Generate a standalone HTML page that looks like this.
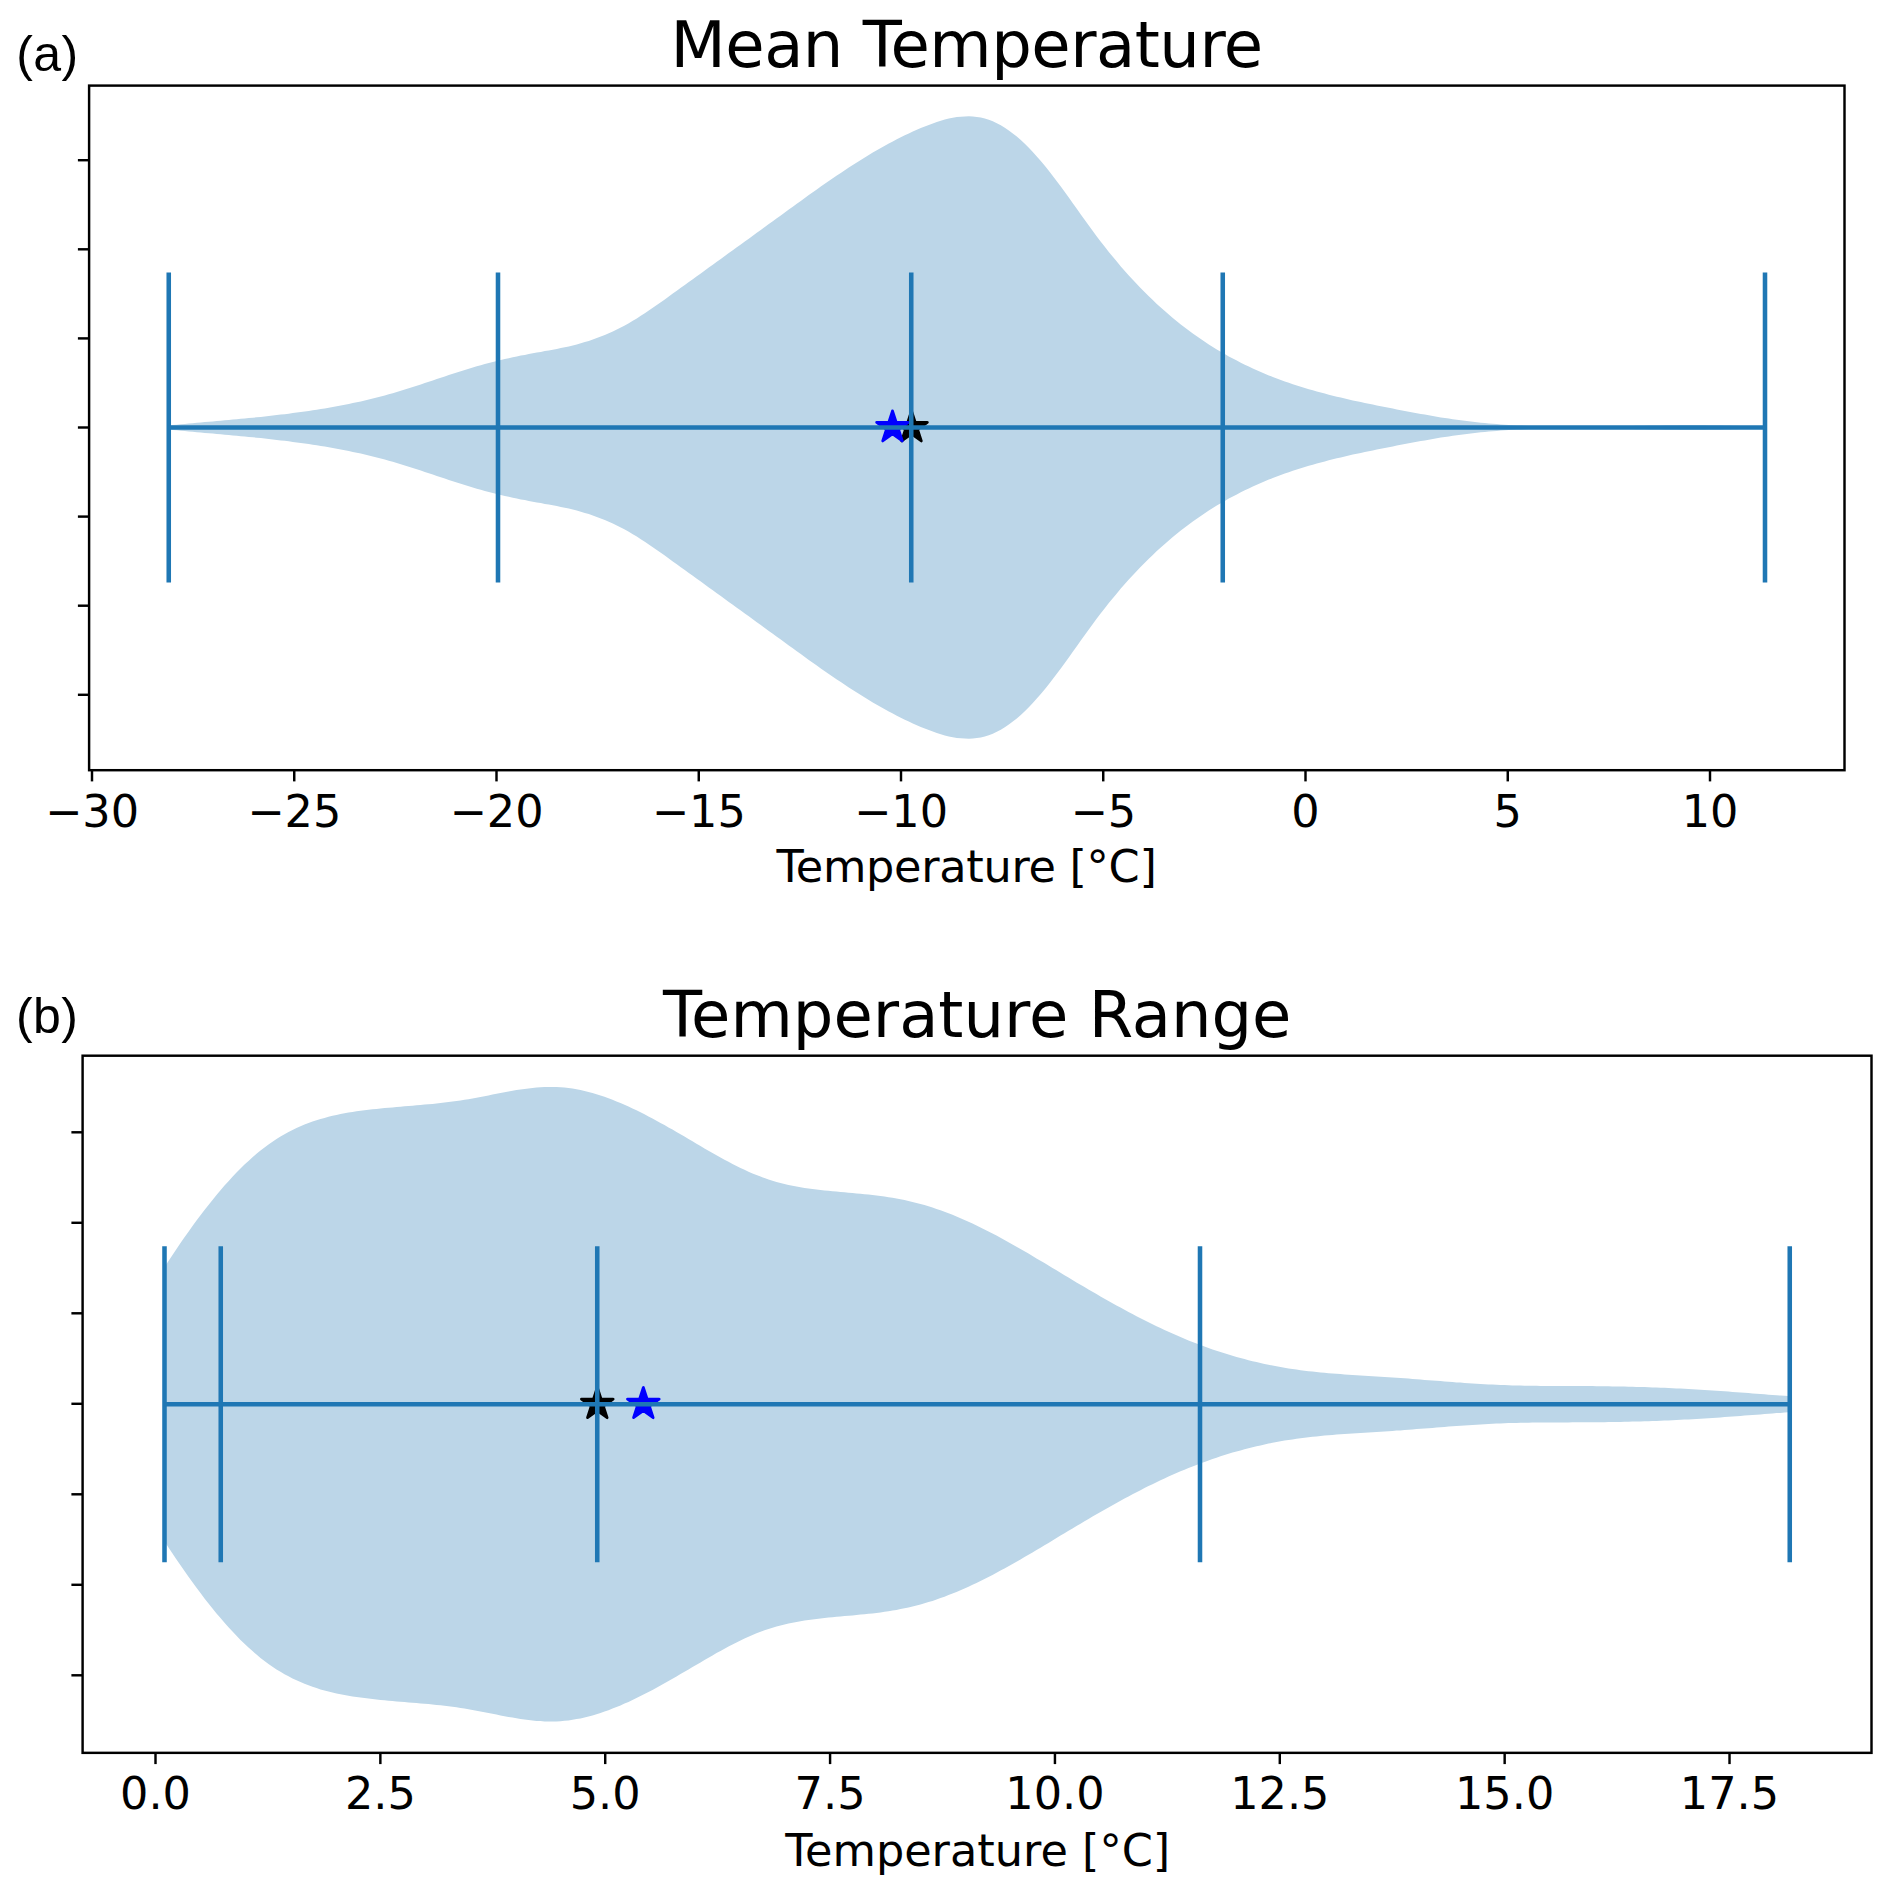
<!DOCTYPE html>
<html><head><meta charset="utf-8"><title>Violin plots</title>
<style>html,body{margin:0;padding:0;background:#fff}svg{display:block}text{fill:#000}.dj{font-family:"DejaVu Sans","Liberation Sans",sans-serif}.lb{font-family:"Liberation Sans","DejaVu Sans",sans-serif}</style></head><body>
<svg width="1892" height="1895" viewBox="0 0 1892 1895">
<rect width="1892" height="1895" fill="#fff"/>
<path d="M168.8,425.5 L172.8,425.1 L176.8,424.7 L180.8,424.3 L184.8,424.0 L188.8,423.6 L192.8,423.2 L196.8,422.8 L200.8,422.5 L204.8,422.1 L208.8,421.8 L212.8,421.4 L216.8,421.0 L220.8,420.7 L224.8,420.3 L228.8,420.0 L232.8,419.6 L236.8,419.2 L240.8,418.8 L244.8,418.5 L248.8,418.1 L252.8,417.7 L256.8,417.3 L260.8,416.9 L264.8,416.4 L268.8,416.0 L272.8,415.6 L276.8,415.1 L280.8,414.6 L284.8,414.2 L288.8,413.7 L292.8,413.1 L296.8,412.6 L300.8,412.1 L304.8,411.5 L308.8,410.9 L312.8,410.3 L316.8,409.7 L320.8,409.1 L324.8,408.4 L328.8,407.7 L332.8,407.0 L336.8,406.3 L340.8,405.5 L344.8,404.8 L348.8,404.0 L352.8,403.1 L356.8,402.3 L360.8,401.4 L364.8,400.5 L368.8,399.5 L372.8,398.5 L376.8,397.5 L380.8,396.5 L384.8,395.4 L388.8,394.3 L392.8,393.2 L396.8,392.0 L400.8,390.8 L404.8,389.5 L408.8,388.3 L412.8,387.0 L416.8,385.7 L420.8,384.4 L424.8,383.1 L428.8,381.8 L432.8,380.4 L436.8,379.1 L440.8,377.8 L444.8,376.4 L448.8,375.1 L452.8,373.8 L456.8,372.5 L460.8,371.2 L464.8,370.0 L468.8,368.7 L472.8,367.5 L476.8,366.3 L480.8,365.2 L484.8,364.1 L488.8,363.0 L492.8,361.9 L496.8,360.9 L500.8,360.0 L504.8,359.1 L508.8,358.2 L512.8,357.3 L516.8,356.5 L520.8,355.6 L524.8,354.9 L528.8,354.1 L532.8,353.3 L536.8,352.6 L540.8,351.9 L544.8,351.1 L548.8,350.4 L552.8,349.7 L556.8,348.9 L560.8,348.1 L564.8,347.3 L568.8,346.4 L572.8,345.4 L576.8,344.4 L580.8,343.3 L584.8,342.1 L588.8,340.9 L592.8,339.5 L596.8,338.1 L600.8,336.6 L604.8,335.0 L608.8,333.3 L612.8,331.5 L616.8,329.5 L620.8,327.5 L624.8,325.4 L628.8,323.2 L632.8,320.8 L636.8,318.4 L640.8,315.8 L644.8,313.2 L648.8,310.6 L652.8,307.8 L656.8,305.1 L660.8,302.2 L664.8,299.4 L668.8,296.5 L672.8,293.6 L676.8,290.7 L680.8,287.8 L684.8,284.9 L688.8,282.1 L692.8,279.2 L696.8,276.3 L700.8,273.4 L704.8,270.5 L708.8,267.6 L712.8,264.7 L716.8,261.8 L720.8,258.9 L724.8,256.0 L728.8,253.1 L732.8,250.2 L736.8,247.3 L740.8,244.5 L744.8,241.6 L748.8,238.7 L752.8,235.8 L756.8,232.8 L760.8,229.9 L764.8,227.0 L768.8,224.1 L772.8,221.2 L776.8,218.3 L780.8,215.4 L784.8,212.5 L788.8,209.6 L792.8,206.7 L796.8,203.8 L800.8,200.9 L804.8,198.0 L808.8,195.1 L812.8,192.3 L816.8,189.4 L820.8,186.6 L824.8,183.8 L828.8,181.1 L832.8,178.3 L836.8,175.6 L840.8,172.9 L844.8,170.2 L848.8,167.6 L852.8,165.0 L856.8,162.4 L860.8,159.9 L864.8,157.4 L868.8,155.0 L872.8,152.6 L876.8,150.2 L880.8,147.9 L884.8,145.7 L888.8,143.5 L892.8,141.4 L896.8,139.3 L900.8,137.2 L904.8,135.3 L908.8,133.4 L912.8,131.5 L916.8,129.8 L920.8,128.0 L924.8,126.4 L928.8,124.9 L932.8,123.4 L936.8,122.0 L940.8,120.7 L944.8,119.6 L948.8,118.6 L952.8,117.8 L956.8,117.1 L960.8,116.7 L964.8,116.4 L968.8,116.3 L972.8,116.5 L976.8,116.9 L980.8,117.6 L984.8,118.6 L988.8,119.8 L992.8,121.3 L996.8,123.2 L1000.8,125.3 L1004.8,127.7 L1008.8,130.4 L1012.8,133.4 L1016.8,136.6 L1020.8,140.1 L1024.8,143.8 L1028.8,147.8 L1032.8,152.0 L1036.8,156.4 L1040.8,161.0 L1044.8,165.8 L1048.8,170.8 L1052.8,175.9 L1056.8,181.2 L1060.8,186.6 L1064.8,192.1 L1068.8,197.6 L1072.8,203.2 L1076.8,208.8 L1080.8,214.4 L1084.8,219.9 L1088.8,225.5 L1092.8,231.0 L1096.8,236.4 L1100.8,241.7 L1104.8,246.8 L1108.8,251.9 L1112.8,256.8 L1116.8,261.6 L1120.8,266.4 L1124.8,270.9 L1128.8,275.4 L1132.8,279.8 L1136.8,284.1 L1140.8,288.2 L1144.8,292.3 L1148.8,296.3 L1152.8,300.1 L1156.8,303.9 L1160.8,307.5 L1164.8,311.1 L1168.8,314.5 L1172.8,317.9 L1176.8,321.2 L1180.8,324.4 L1184.8,327.5 L1188.8,330.5 L1192.8,333.5 L1196.8,336.3 L1200.8,339.1 L1204.8,341.8 L1208.8,344.4 L1212.8,346.9 L1216.8,349.4 L1220.8,351.8 L1224.8,354.1 L1228.8,356.4 L1232.8,358.5 L1236.8,360.6 L1240.8,362.7 L1244.8,364.7 L1248.8,366.6 L1252.8,368.5 L1256.8,370.3 L1260.8,372.0 L1264.8,373.7 L1268.8,375.4 L1272.8,376.9 L1276.8,378.5 L1280.8,380.0 L1284.8,381.4 L1288.8,382.8 L1292.8,384.2 L1296.8,385.5 L1300.8,386.8 L1304.8,388.0 L1308.8,389.2 L1312.8,390.3 L1316.8,391.5 L1320.8,392.6 L1324.8,393.6 L1328.8,394.7 L1332.8,395.7 L1336.8,396.7 L1340.8,397.6 L1344.8,398.5 L1348.8,399.5 L1352.8,400.4 L1356.8,401.2 L1360.8,402.1 L1364.8,402.9 L1368.8,403.8 L1372.8,404.6 L1376.8,405.4 L1380.8,406.2 L1384.8,407.0 L1388.8,407.8 L1392.8,408.6 L1396.8,409.4 L1400.8,410.2 L1404.8,411.0 L1408.8,411.7 L1412.8,412.5 L1416.8,413.2 L1420.8,413.9 L1424.8,414.6 L1428.8,415.3 L1432.8,416.0 L1436.8,416.7 L1440.8,417.4 L1444.8,418.0 L1448.8,418.6 L1452.8,419.2 L1456.8,419.8 L1460.8,420.3 L1464.8,420.8 L1468.8,421.3 L1472.8,421.8 L1476.8,422.3 L1480.8,422.7 L1484.8,423.1 L1488.8,423.5 L1492.8,423.8 L1496.8,424.1 L1500.8,424.5 L1504.8,424.7 L1508.8,425.0 L1512.8,425.2 L1516.8,425.4 L1520.8,425.6 L1524.8,425.8 L1528.8,426.0 L1532.8,426.1 L1536.8,426.2 L1540.8,426.4 L1544.8,426.4 L1548.8,426.5 L1552.8,426.6 L1556.8,426.6 L1560.8,426.7 L1564.8,426.7 L1568.8,426.7 L1572.8,426.7 L1576.8,426.7 L1580.8,426.7 L1584.8,426.7 L1588.8,426.6 L1592.8,426.6 L1596.8,426.5 L1600.8,426.5 L1604.8,426.4 L1608.8,426.4 L1612.8,426.3 L1616.8,426.2 L1620.8,426.2 L1624.8,426.1 L1628.8,426.0 L1632.8,425.9 L1636.8,425.8 L1640.8,425.8 L1644.8,425.7 L1648.8,425.6 L1652.8,425.5 L1656.8,425.5 L1660.8,425.4 L1664.8,425.3 L1668.8,425.3 L1672.8,425.2 L1676.8,425.2 L1680.8,425.1 L1684.8,425.1 L1688.8,425.1 L1692.8,425.1 L1696.8,425.1 L1700.8,425.1 L1704.8,425.1 L1708.8,425.2 L1712.8,425.2 L1716.8,425.3 L1720.8,425.3 L1724.8,425.4 L1728.8,425.5 L1732.8,425.7 L1736.8,425.8 L1740.8,425.9 L1744.8,426.1 L1748.8,426.3 L1752.8,426.5 L1756.8,426.8 L1760.8,427.0 L1764.8,427.3 L1765.0,427.3 L1765.0,427.7 L1764.8,427.7 L1760.8,428.0 L1756.8,428.2 L1752.8,428.5 L1748.8,428.7 L1744.8,428.9 L1740.8,429.1 L1736.8,429.2 L1732.8,429.3 L1728.8,429.5 L1724.8,429.6 L1720.8,429.7 L1716.8,429.7 L1712.8,429.8 L1708.8,429.8 L1704.8,429.9 L1700.8,429.9 L1696.8,429.9 L1692.8,429.9 L1688.8,429.9 L1684.8,429.9 L1680.8,429.9 L1676.8,429.8 L1672.8,429.8 L1668.8,429.7 L1664.8,429.7 L1660.8,429.6 L1656.8,429.5 L1652.8,429.5 L1648.8,429.4 L1644.8,429.3 L1640.8,429.2 L1636.8,429.2 L1632.8,429.1 L1628.8,429.0 L1624.8,428.9 L1620.8,428.8 L1616.8,428.8 L1612.8,428.7 L1608.8,428.6 L1604.8,428.6 L1600.8,428.5 L1596.8,428.5 L1592.8,428.4 L1588.8,428.4 L1584.8,428.3 L1580.8,428.3 L1576.8,428.3 L1572.8,428.3 L1568.8,428.3 L1564.8,428.3 L1560.8,428.3 L1556.8,428.4 L1552.8,428.4 L1548.8,428.5 L1544.8,428.6 L1540.8,428.6 L1536.8,428.8 L1532.8,428.9 L1528.8,429.0 L1524.8,429.2 L1520.8,429.4 L1516.8,429.6 L1512.8,429.8 L1508.8,430.0 L1504.8,430.3 L1500.8,430.5 L1496.8,430.9 L1492.8,431.2 L1488.8,431.5 L1484.8,431.9 L1480.8,432.3 L1476.8,432.7 L1472.8,433.2 L1468.8,433.7 L1464.8,434.2 L1460.8,434.7 L1456.8,435.2 L1452.8,435.8 L1448.8,436.4 L1444.8,437.0 L1440.8,437.6 L1436.8,438.3 L1432.8,439.0 L1428.8,439.7 L1424.8,440.4 L1420.8,441.1 L1416.8,441.8 L1412.8,442.5 L1408.8,443.3 L1404.8,444.0 L1400.8,444.8 L1396.8,445.6 L1392.8,446.4 L1388.8,447.2 L1384.8,448.0 L1380.8,448.8 L1376.8,449.6 L1372.8,450.4 L1368.8,451.2 L1364.8,452.1 L1360.8,452.9 L1356.8,453.8 L1352.8,454.6 L1348.8,455.5 L1344.8,456.5 L1340.8,457.4 L1336.8,458.3 L1332.8,459.3 L1328.8,460.3 L1324.8,461.4 L1320.8,462.4 L1316.8,463.5 L1312.8,464.7 L1308.8,465.8 L1304.8,467.0 L1300.8,468.2 L1296.8,469.5 L1292.8,470.8 L1288.8,472.2 L1284.8,473.6 L1280.8,475.0 L1276.8,476.5 L1272.8,478.1 L1268.8,479.6 L1264.8,481.3 L1260.8,483.0 L1256.8,484.7 L1252.8,486.5 L1248.8,488.4 L1244.8,490.3 L1240.8,492.3 L1236.8,494.4 L1232.8,496.5 L1228.8,498.6 L1224.8,500.9 L1220.8,503.2 L1216.8,505.6 L1212.8,508.1 L1208.8,510.6 L1204.8,513.2 L1200.8,515.9 L1196.8,518.7 L1192.8,521.5 L1188.8,524.5 L1184.8,527.5 L1180.8,530.6 L1176.8,533.8 L1172.8,537.1 L1168.8,540.5 L1164.8,543.9 L1160.8,547.5 L1156.8,551.1 L1152.8,554.9 L1148.8,558.7 L1144.8,562.7 L1140.8,566.8 L1136.8,570.9 L1132.8,575.2 L1128.8,579.6 L1124.8,584.1 L1120.8,588.6 L1116.8,593.4 L1112.8,598.2 L1108.8,603.1 L1104.8,608.2 L1100.8,613.3 L1096.8,618.6 L1092.8,624.0 L1088.8,629.5 L1084.8,635.1 L1080.8,640.6 L1076.8,646.2 L1072.8,651.8 L1068.8,657.4 L1064.8,662.9 L1060.8,668.4 L1056.8,673.8 L1052.8,679.1 L1048.8,684.2 L1044.8,689.2 L1040.8,694.0 L1036.8,698.6 L1032.8,703.0 L1028.8,707.2 L1024.8,711.2 L1020.8,714.9 L1016.8,718.4 L1012.8,721.6 L1008.8,724.6 L1004.8,727.3 L1000.8,729.7 L996.8,731.8 L992.8,733.7 L988.8,735.2 L984.8,736.4 L980.8,737.4 L976.8,738.1 L972.8,738.5 L968.8,738.7 L964.8,738.6 L960.8,738.3 L956.8,737.9 L952.8,737.2 L948.8,736.4 L944.8,735.4 L940.8,734.3 L936.8,733.0 L932.8,731.6 L928.8,730.1 L924.8,728.6 L920.8,727.0 L916.8,725.2 L912.8,723.5 L908.8,721.6 L904.8,719.7 L900.8,717.8 L896.8,715.7 L892.8,713.6 L888.8,711.5 L884.8,709.3 L880.8,707.1 L876.8,704.8 L872.8,702.4 L868.8,700.0 L864.8,697.6 L860.8,695.1 L856.8,692.6 L852.8,690.0 L848.8,687.4 L844.8,684.8 L840.8,682.1 L836.8,679.4 L832.8,676.7 L828.8,673.9 L824.8,671.2 L820.8,668.4 L816.8,665.6 L812.8,662.7 L808.8,659.9 L804.8,657.0 L800.8,654.1 L796.8,651.2 L792.8,648.3 L788.8,645.4 L784.8,642.5 L780.8,639.6 L776.8,636.7 L772.8,633.8 L768.8,630.9 L764.8,628.0 L760.8,625.1 L756.8,622.2 L752.8,619.2 L748.8,616.3 L744.8,613.4 L740.8,610.5 L736.8,607.7 L732.8,604.8 L728.8,601.9 L724.8,599.0 L720.8,596.1 L716.8,593.2 L712.8,590.3 L708.8,587.4 L704.8,584.5 L700.8,581.6 L696.8,578.7 L692.8,575.8 L688.8,572.9 L684.8,570.1 L680.8,567.2 L676.8,564.3 L672.8,561.4 L668.8,558.5 L664.8,555.6 L660.8,552.8 L656.8,549.9 L652.8,547.2 L648.8,544.4 L644.8,541.8 L640.8,539.2 L636.8,536.6 L632.8,534.2 L628.8,531.8 L624.8,529.6 L620.8,527.5 L616.8,525.5 L612.8,523.5 L608.8,521.7 L604.8,520.0 L600.8,518.4 L596.8,516.9 L592.8,515.5 L588.8,514.1 L584.8,512.9 L580.8,511.7 L576.8,510.6 L572.8,509.6 L568.8,508.6 L564.8,507.7 L560.8,506.9 L556.8,506.1 L552.8,505.3 L548.8,504.6 L544.8,503.9 L540.8,503.1 L536.8,502.4 L532.8,501.7 L528.8,500.9 L524.8,500.1 L520.8,499.4 L516.8,498.5 L512.8,497.7 L508.8,496.8 L504.8,495.9 L500.8,495.0 L496.8,494.1 L492.8,493.1 L488.8,492.0 L484.8,490.9 L480.8,489.8 L476.8,488.7 L472.8,487.5 L468.8,486.3 L464.8,485.0 L460.8,483.8 L456.8,482.5 L452.8,481.2 L448.8,479.9 L444.8,478.6 L440.8,477.2 L436.8,475.9 L432.8,474.6 L428.8,473.2 L424.8,471.9 L420.8,470.6 L416.8,469.3 L412.8,468.0 L408.8,466.7 L404.8,465.5 L400.8,464.2 L396.8,463.0 L392.8,461.8 L388.8,460.7 L384.8,459.6 L380.8,458.5 L376.8,457.5 L372.8,456.5 L368.8,455.5 L364.8,454.5 L360.8,453.6 L356.8,452.7 L352.8,451.9 L348.8,451.0 L344.8,450.2 L340.8,449.5 L336.8,448.7 L332.8,448.0 L328.8,447.3 L324.8,446.6 L320.8,445.9 L316.8,445.3 L312.8,444.7 L308.8,444.1 L304.8,443.5 L300.8,442.9 L296.8,442.4 L292.8,441.9 L288.8,441.3 L284.8,440.8 L280.8,440.4 L276.8,439.9 L272.8,439.4 L268.8,439.0 L264.8,438.6 L260.8,438.1 L256.8,437.7 L252.8,437.3 L248.8,436.9 L244.8,436.5 L240.8,436.2 L236.8,435.8 L232.8,435.4 L228.8,435.0 L224.8,434.7 L220.8,434.3 L216.8,434.0 L212.8,433.6 L208.8,433.2 L204.8,432.9 L200.8,432.5 L196.8,432.2 L192.8,431.8 L188.8,431.4 L184.8,431.0 L180.8,430.7 L176.8,430.3 L172.8,429.9 L168.8,429.5Z" fill="#bcd6e8"/>
<polygon points="911.50,410.83 907.76,422.35 895.65,422.35 905.44,429.47 901.70,440.99 911.50,433.87 921.30,440.99 917.56,429.47 927.35,422.35 915.24,422.35" fill="#000" stroke="#000" stroke-width="2.78" stroke-linejoin="round"/>
<polygon points="892.50,410.83 888.76,422.35 876.65,422.35 886.44,429.47 882.70,440.99 892.50,433.87 902.30,440.99 898.56,429.47 908.35,422.35 896.24,422.35" fill="#0000ff" stroke="#0000ff" stroke-width="2.78" stroke-linejoin="round"/>
<line x1="168.75" y1="272.5" x2="168.75" y2="582.5" stroke="#1f77b4" stroke-width="4.55"/>
<line x1="498" y1="272.5" x2="498" y2="582.5" stroke="#1f77b4" stroke-width="4.55"/>
<line x1="911.25" y1="272.5" x2="911.25" y2="582.5" stroke="#1f77b4" stroke-width="4.55"/>
<line x1="1222.75" y1="272.5" x2="1222.75" y2="582.5" stroke="#1f77b4" stroke-width="4.55"/>
<line x1="1765" y1="272.5" x2="1765" y2="582.5" stroke="#1f77b4" stroke-width="4.55"/>
<line x1="168.75" y1="427.5" x2="1765" y2="427.5" stroke="#1f77b4" stroke-width="4.55"/>
<line x1="92.0" y1="770.2" x2="92.0" y2="781.4" stroke="#000" stroke-width="2.45"/>
<line x1="294.25" y1="770.2" x2="294.25" y2="781.4" stroke="#000" stroke-width="2.45"/>
<line x1="496.5" y1="770.2" x2="496.5" y2="781.4" stroke="#000" stroke-width="2.45"/>
<line x1="698.75" y1="770.2" x2="698.75" y2="781.4" stroke="#000" stroke-width="2.45"/>
<line x1="901.0" y1="770.2" x2="901.0" y2="781.4" stroke="#000" stroke-width="2.45"/>
<line x1="1103.25" y1="770.2" x2="1103.25" y2="781.4" stroke="#000" stroke-width="2.45"/>
<line x1="1305.5" y1="770.2" x2="1305.5" y2="781.4" stroke="#000" stroke-width="2.45"/>
<line x1="1507.75" y1="770.2" x2="1507.75" y2="781.4" stroke="#000" stroke-width="2.45"/>
<line x1="1710.0" y1="770.2" x2="1710.0" y2="781.4" stroke="#000" stroke-width="2.45"/>
<line x1="77.9" y1="160.2" x2="89.1" y2="160.2" stroke="#000" stroke-width="2.45"/>
<line x1="77.9" y1="249.29999999999998" x2="89.1" y2="249.29999999999998" stroke="#000" stroke-width="2.45"/>
<line x1="77.9" y1="338.4" x2="89.1" y2="338.4" stroke="#000" stroke-width="2.45"/>
<line x1="77.9" y1="427.49999999999994" x2="89.1" y2="427.49999999999994" stroke="#000" stroke-width="2.45"/>
<line x1="77.9" y1="516.5999999999999" x2="89.1" y2="516.5999999999999" stroke="#000" stroke-width="2.45"/>
<line x1="77.9" y1="605.7" x2="89.1" y2="605.7" stroke="#000" stroke-width="2.45"/>
<line x1="77.9" y1="694.8" x2="89.1" y2="694.8" stroke="#000" stroke-width="2.45"/>
<rect x="89.1" y="85.6" width="1755.4" height="684.6" fill="none" stroke="#000" stroke-width="2.45"/>
<text class="dj" x="92.0" y="826.5" font-size="44.6" text-anchor="middle">−30</text>
<text class="dj" x="294.25" y="826.5" font-size="44.6" text-anchor="middle">−25</text>
<text class="dj" x="496.5" y="826.5" font-size="44.6" text-anchor="middle">−20</text>
<text class="dj" x="698.75" y="826.5" font-size="44.6" text-anchor="middle">−15</text>
<text class="dj" x="901.0" y="826.5" font-size="44.6" text-anchor="middle">−10</text>
<text class="dj" x="1103.25" y="826.5" font-size="44.6" text-anchor="middle">−5</text>
<text class="dj" x="1305.5" y="826.5" font-size="44.6" text-anchor="middle">0</text>
<text class="dj" x="1507.75" y="826.5" font-size="44.6" text-anchor="middle">5</text>
<text class="dj" x="1710.0" y="826.5" font-size="44.6" text-anchor="middle">10</text>
<text class="dj" x="966.5" y="882" font-size="44.6" text-anchor="middle" letter-spacing="-0.3">Temperature [°C]</text>
<text class="dj" x="966.6" y="66.8" font-size="64" text-anchor="middle" letter-spacing="-0.5">Mean Temperature</text>
<text class="lb" x="16.2" y="71" font-size="50" letter-spacing="0.4">(a)</text>
<path d="M164.5,1267.2 L168.5,1261.0 L172.5,1255.0 L176.5,1249.0 L180.5,1243.1 L184.5,1237.3 L188.5,1231.7 L192.5,1226.1 L196.5,1220.6 L200.5,1215.3 L204.5,1210.0 L208.5,1204.9 L212.5,1199.9 L216.5,1195.0 L220.5,1190.3 L224.5,1185.6 L228.5,1181.2 L232.5,1176.8 L236.5,1172.6 L240.5,1168.5 L244.5,1164.6 L248.5,1160.9 L252.5,1157.3 L256.5,1153.8 L260.5,1150.5 L264.5,1147.4 L268.5,1144.5 L272.5,1141.7 L276.5,1139.0 L280.5,1136.6 L284.5,1134.2 L288.5,1132.1 L292.5,1130.0 L296.5,1128.1 L300.5,1126.3 L304.5,1124.6 L308.5,1123.1 L312.5,1121.6 L316.5,1120.3 L320.5,1119.0 L324.5,1117.9 L328.5,1116.8 L332.5,1115.8 L336.5,1114.9 L340.5,1114.1 L344.5,1113.3 L348.5,1112.6 L352.5,1111.9 L356.5,1111.3 L360.5,1110.8 L364.5,1110.3 L368.5,1109.8 L372.5,1109.3 L376.5,1108.9 L380.5,1108.5 L384.5,1108.1 L388.5,1107.7 L392.5,1107.4 L396.5,1107.0 L400.5,1106.7 L404.5,1106.3 L408.5,1106.0 L412.5,1105.7 L416.5,1105.3 L420.5,1105.0 L424.5,1104.6 L428.5,1104.3 L432.5,1103.9 L436.5,1103.5 L440.5,1103.1 L444.5,1102.6 L448.5,1102.1 L452.5,1101.6 L456.5,1101.1 L460.5,1100.5 L464.5,1099.8 L468.5,1099.2 L472.5,1098.5 L476.5,1097.7 L480.5,1097.0 L484.5,1096.2 L488.5,1095.4 L492.5,1094.6 L496.5,1093.8 L500.5,1093.0 L504.5,1092.2 L508.5,1091.5 L512.5,1090.8 L516.5,1090.1 L520.5,1089.5 L524.5,1088.9 L528.5,1088.4 L532.5,1087.9 L536.5,1087.5 L540.5,1087.3 L544.5,1087.0 L548.5,1086.9 L552.5,1086.9 L556.5,1087.0 L560.5,1087.2 L564.5,1087.6 L568.5,1088.0 L572.5,1088.6 L576.5,1089.3 L580.5,1090.0 L584.5,1090.9 L588.5,1091.9 L592.5,1093.0 L596.5,1094.2 L600.5,1095.5 L604.5,1096.8 L608.5,1098.2 L612.5,1099.8 L616.5,1101.4 L620.5,1103.0 L624.5,1104.8 L628.5,1106.5 L632.5,1108.4 L636.5,1110.3 L640.5,1112.3 L644.5,1114.3 L648.5,1116.4 L652.5,1118.5 L656.5,1120.7 L660.5,1122.9 L664.5,1125.1 L668.5,1127.4 L672.5,1129.6 L676.5,1132.0 L680.5,1134.3 L684.5,1136.6 L688.5,1139.0 L692.5,1141.3 L696.5,1143.7 L700.5,1146.0 L704.5,1148.4 L708.5,1150.7 L712.5,1153.0 L716.5,1155.3 L720.5,1157.5 L724.5,1159.7 L728.5,1161.8 L732.5,1163.9 L736.5,1166.0 L740.5,1167.9 L744.5,1169.8 L748.5,1171.7 L752.5,1173.4 L756.5,1175.1 L760.5,1176.6 L764.5,1178.1 L768.5,1179.5 L772.5,1180.7 L776.5,1181.9 L780.5,1183.0 L784.5,1184.0 L788.5,1184.9 L792.5,1185.7 L796.5,1186.5 L800.5,1187.2 L804.5,1187.9 L808.5,1188.5 L812.5,1189.0 L816.5,1189.5 L820.5,1190.0 L824.5,1190.4 L828.5,1190.8 L832.5,1191.2 L836.5,1191.6 L840.5,1192.0 L844.5,1192.3 L848.5,1192.7 L852.5,1193.0 L856.5,1193.4 L860.5,1193.8 L864.5,1194.2 L868.5,1194.6 L872.5,1195.0 L876.5,1195.5 L880.5,1196.0 L884.5,1196.6 L888.5,1197.2 L892.5,1197.8 L896.5,1198.5 L900.5,1199.3 L904.5,1200.1 L908.5,1200.9 L912.5,1201.9 L916.5,1202.9 L920.5,1203.9 L924.5,1205.1 L928.5,1206.3 L932.5,1207.5 L936.5,1208.9 L940.5,1210.3 L944.5,1211.7 L948.5,1213.3 L952.5,1214.8 L956.5,1216.5 L960.5,1218.2 L964.5,1219.9 L968.5,1221.7 L972.5,1223.6 L976.5,1225.5 L980.5,1227.4 L984.5,1229.4 L988.5,1231.5 L992.5,1233.5 L996.5,1235.6 L1000.5,1237.8 L1004.5,1240.0 L1008.5,1242.2 L1012.5,1244.4 L1016.5,1246.7 L1020.5,1249.0 L1024.5,1251.3 L1028.5,1253.6 L1032.5,1256.0 L1036.5,1258.4 L1040.5,1260.7 L1044.5,1263.1 L1048.5,1265.5 L1052.5,1267.9 L1056.5,1270.3 L1060.5,1272.8 L1064.5,1275.2 L1068.5,1277.6 L1072.5,1280.0 L1076.5,1282.4 L1080.5,1284.7 L1084.5,1287.1 L1088.5,1289.5 L1092.5,1291.8 L1096.5,1294.1 L1100.5,1296.4 L1104.5,1298.7 L1108.5,1301.0 L1112.5,1303.2 L1116.5,1305.4 L1120.5,1307.6 L1124.5,1309.8 L1128.5,1312.0 L1132.5,1314.1 L1136.5,1316.2 L1140.5,1318.2 L1144.5,1320.3 L1148.5,1322.3 L1152.5,1324.2 L1156.5,1326.2 L1160.5,1328.1 L1164.5,1329.9 L1168.5,1331.8 L1172.5,1333.6 L1176.5,1335.3 L1180.5,1337.1 L1184.5,1338.7 L1188.5,1340.4 L1192.5,1342.0 L1196.5,1343.5 L1200.5,1345.1 L1204.5,1346.5 L1208.5,1348.0 L1212.5,1349.4 L1216.5,1350.7 L1220.5,1352.1 L1224.5,1353.3 L1228.5,1354.6 L1232.5,1355.8 L1236.5,1356.9 L1240.5,1358.0 L1244.5,1359.1 L1248.5,1360.2 L1252.5,1361.2 L1256.5,1362.1 L1260.5,1363.0 L1264.5,1363.9 L1268.5,1364.8 L1272.5,1365.6 L1276.5,1366.3 L1280.5,1367.1 L1284.5,1367.8 L1288.5,1368.4 L1292.5,1369.0 L1296.5,1369.6 L1300.5,1370.2 L1304.5,1370.7 L1308.5,1371.2 L1312.5,1371.6 L1316.5,1372.0 L1320.5,1372.4 L1324.5,1372.8 L1328.5,1373.2 L1332.5,1373.5 L1336.5,1373.8 L1340.5,1374.1 L1344.5,1374.4 L1348.5,1374.7 L1352.5,1375.0 L1356.5,1375.2 L1360.5,1375.5 L1364.5,1375.7 L1368.5,1376.0 L1372.5,1376.2 L1376.5,1376.4 L1380.5,1376.7 L1384.5,1377.0 L1388.5,1377.2 L1392.5,1377.5 L1396.5,1377.8 L1400.5,1378.0 L1404.5,1378.3 L1408.5,1378.6 L1412.5,1378.9 L1416.5,1379.3 L1420.5,1379.6 L1424.5,1379.9 L1428.5,1380.2 L1432.5,1380.5 L1436.5,1380.8 L1440.5,1381.1 L1444.5,1381.5 L1448.5,1381.8 L1452.5,1382.1 L1456.5,1382.4 L1460.5,1382.6 L1464.5,1382.9 L1468.5,1383.2 L1472.5,1383.5 L1476.5,1383.7 L1480.5,1384.0 L1484.5,1384.2 L1488.5,1384.4 L1492.5,1384.6 L1496.5,1384.8 L1500.5,1385.0 L1504.5,1385.1 L1508.5,1385.3 L1512.5,1385.4 L1516.5,1385.5 L1520.5,1385.6 L1524.5,1385.7 L1528.5,1385.7 L1532.5,1385.8 L1536.5,1385.8 L1540.5,1385.9 L1544.5,1385.9 L1548.5,1386.0 L1552.5,1386.0 L1556.5,1386.0 L1560.5,1386.0 L1564.5,1386.0 L1568.5,1386.0 L1572.5,1386.1 L1576.5,1386.1 L1580.5,1386.1 L1584.5,1386.1 L1588.5,1386.1 L1592.5,1386.1 L1596.5,1386.2 L1600.5,1386.2 L1604.5,1386.2 L1608.5,1386.3 L1612.5,1386.4 L1616.5,1386.4 L1620.5,1386.5 L1624.5,1386.6 L1628.5,1386.7 L1632.5,1386.8 L1636.5,1386.9 L1640.5,1387.0 L1644.5,1387.1 L1648.5,1387.2 L1652.5,1387.4 L1656.5,1387.5 L1660.5,1387.7 L1664.5,1387.8 L1668.5,1388.0 L1672.5,1388.2 L1676.5,1388.4 L1680.5,1388.6 L1684.5,1388.8 L1688.5,1389.0 L1692.5,1389.2 L1696.5,1389.4 L1700.5,1389.7 L1704.5,1389.9 L1708.5,1390.2 L1712.5,1390.5 L1716.5,1390.7 L1720.5,1391.0 L1724.5,1391.3 L1728.5,1391.6 L1732.5,1391.9 L1736.5,1392.2 L1740.5,1392.5 L1744.5,1392.8 L1748.5,1393.1 L1752.5,1393.4 L1756.5,1393.7 L1760.5,1394.0 L1764.5,1394.3 L1768.5,1394.7 L1772.5,1395.0 L1776.5,1395.3 L1780.5,1395.5 L1784.5,1395.8 L1788.5,1396.1 L1789.8,1396.2 L1789.8,1412.2 L1788.5,1412.3 L1784.5,1412.6 L1780.5,1412.9 L1776.5,1413.1 L1772.5,1413.4 L1768.5,1413.7 L1764.5,1414.1 L1760.5,1414.4 L1756.5,1414.7 L1752.5,1415.0 L1748.5,1415.3 L1744.5,1415.6 L1740.5,1415.9 L1736.5,1416.2 L1732.5,1416.5 L1728.5,1416.8 L1724.5,1417.1 L1720.5,1417.4 L1716.5,1417.7 L1712.5,1417.9 L1708.5,1418.2 L1704.5,1418.5 L1700.5,1418.7 L1696.5,1419.0 L1692.5,1419.2 L1688.5,1419.4 L1684.5,1419.6 L1680.5,1419.8 L1676.5,1420.0 L1672.5,1420.2 L1668.5,1420.4 L1664.5,1420.6 L1660.5,1420.7 L1656.5,1420.9 L1652.5,1421.0 L1648.5,1421.2 L1644.5,1421.3 L1640.5,1421.4 L1636.5,1421.5 L1632.5,1421.6 L1628.5,1421.7 L1624.5,1421.8 L1620.5,1421.9 L1616.5,1422.0 L1612.5,1422.0 L1608.5,1422.1 L1604.5,1422.2 L1600.5,1422.2 L1596.5,1422.2 L1592.5,1422.3 L1588.5,1422.3 L1584.5,1422.3 L1580.5,1422.3 L1576.5,1422.3 L1572.5,1422.3 L1568.5,1422.4 L1564.5,1422.4 L1560.5,1422.4 L1556.5,1422.4 L1552.5,1422.4 L1548.5,1422.4 L1544.5,1422.5 L1540.5,1422.5 L1536.5,1422.6 L1532.5,1422.6 L1528.5,1422.7 L1524.5,1422.7 L1520.5,1422.8 L1516.5,1422.9 L1512.5,1423.0 L1508.5,1423.1 L1504.5,1423.3 L1500.5,1423.4 L1496.5,1423.6 L1492.5,1423.8 L1488.5,1424.0 L1484.5,1424.2 L1480.5,1424.4 L1476.5,1424.7 L1472.5,1424.9 L1468.5,1425.2 L1464.5,1425.5 L1460.5,1425.8 L1456.5,1426.0 L1452.5,1426.3 L1448.5,1426.6 L1444.5,1426.9 L1440.5,1427.3 L1436.5,1427.6 L1432.5,1427.9 L1428.5,1428.2 L1424.5,1428.5 L1420.5,1428.8 L1416.5,1429.1 L1412.5,1429.5 L1408.5,1429.8 L1404.5,1430.1 L1400.5,1430.4 L1396.5,1430.6 L1392.5,1430.9 L1388.5,1431.2 L1384.5,1431.4 L1380.5,1431.7 L1376.5,1432.0 L1372.5,1432.2 L1368.5,1432.4 L1364.5,1432.7 L1360.5,1432.9 L1356.5,1433.2 L1352.5,1433.4 L1348.5,1433.7 L1344.5,1434.0 L1340.5,1434.3 L1336.5,1434.6 L1332.5,1434.9 L1328.5,1435.2 L1324.5,1435.6 L1320.5,1436.0 L1316.5,1436.4 L1312.5,1436.8 L1308.5,1437.2 L1304.5,1437.7 L1300.5,1438.2 L1296.5,1438.8 L1292.5,1439.4 L1288.5,1440.0 L1284.5,1440.6 L1280.5,1441.3 L1276.5,1442.1 L1272.5,1442.8 L1268.5,1443.6 L1264.5,1444.5 L1260.5,1445.4 L1256.5,1446.3 L1252.5,1447.2 L1248.5,1448.2 L1244.5,1449.3 L1240.5,1450.4 L1236.5,1451.5 L1232.5,1452.6 L1228.5,1453.8 L1224.5,1455.1 L1220.5,1456.3 L1216.5,1457.7 L1212.5,1459.0 L1208.5,1460.4 L1204.5,1461.9 L1200.5,1463.3 L1196.5,1464.9 L1192.5,1466.4 L1188.5,1468.0 L1184.5,1469.7 L1180.5,1471.3 L1176.5,1473.1 L1172.5,1474.8 L1168.5,1476.6 L1164.5,1478.5 L1160.5,1480.3 L1156.5,1482.2 L1152.5,1484.2 L1148.5,1486.1 L1144.5,1488.1 L1140.5,1490.2 L1136.5,1492.2 L1132.5,1494.3 L1128.5,1496.4 L1124.5,1498.6 L1120.5,1500.8 L1116.5,1503.0 L1112.5,1505.2 L1108.5,1507.4 L1104.5,1509.7 L1100.5,1512.0 L1096.5,1514.3 L1092.5,1516.6 L1088.5,1518.9 L1084.5,1521.3 L1080.5,1523.7 L1076.5,1526.0 L1072.5,1528.4 L1068.5,1530.8 L1064.5,1533.2 L1060.5,1535.6 L1056.5,1538.1 L1052.5,1540.5 L1048.5,1542.9 L1044.5,1545.3 L1040.5,1547.7 L1036.5,1550.0 L1032.5,1552.4 L1028.5,1554.8 L1024.5,1557.1 L1020.5,1559.4 L1016.5,1561.7 L1012.5,1564.0 L1008.5,1566.2 L1004.5,1568.4 L1000.5,1570.6 L996.5,1572.8 L992.5,1574.9 L988.5,1576.9 L984.5,1579.0 L980.5,1581.0 L976.5,1582.9 L972.5,1584.8 L968.5,1586.7 L964.5,1588.5 L960.5,1590.2 L956.5,1591.9 L952.5,1593.6 L948.5,1595.1 L944.5,1596.7 L940.5,1598.1 L936.5,1599.5 L932.5,1600.9 L928.5,1602.1 L924.5,1603.3 L920.5,1604.5 L916.5,1605.5 L912.5,1606.5 L908.5,1607.5 L904.5,1608.3 L900.5,1609.1 L896.5,1609.9 L892.5,1610.6 L888.5,1611.2 L884.5,1611.8 L880.5,1612.4 L876.5,1612.9 L872.5,1613.4 L868.5,1613.8 L864.5,1614.2 L860.5,1614.6 L856.5,1615.0 L852.5,1615.4 L848.5,1615.7 L844.5,1616.1 L840.5,1616.4 L836.5,1616.8 L832.5,1617.2 L828.5,1617.6 L824.5,1618.0 L820.5,1618.4 L816.5,1618.9 L812.5,1619.4 L808.5,1619.9 L804.5,1620.5 L800.5,1621.2 L796.5,1621.9 L792.5,1622.7 L788.5,1623.5 L784.5,1624.4 L780.5,1625.4 L776.5,1626.5 L772.5,1627.7 L768.5,1628.9 L764.5,1630.3 L760.5,1631.8 L756.5,1633.3 L752.5,1635.0 L748.5,1636.7 L744.5,1638.6 L740.5,1640.5 L736.5,1642.4 L732.5,1644.5 L728.5,1646.6 L724.5,1648.7 L720.5,1650.9 L716.5,1653.1 L712.5,1655.4 L708.5,1657.7 L704.5,1660.0 L700.5,1662.4 L696.5,1664.7 L692.5,1667.1 L688.5,1669.4 L684.5,1671.8 L680.5,1674.1 L676.5,1676.4 L672.5,1678.8 L668.5,1681.0 L664.5,1683.3 L660.5,1685.5 L656.5,1687.7 L652.5,1689.9 L648.5,1692.0 L644.5,1694.1 L640.5,1696.1 L636.5,1698.1 L632.5,1700.0 L628.5,1701.9 L624.5,1703.6 L620.5,1705.4 L616.5,1707.0 L612.5,1708.6 L608.5,1710.2 L604.5,1711.6 L600.5,1712.9 L596.5,1714.2 L592.5,1715.4 L588.5,1716.5 L584.5,1717.5 L580.5,1718.4 L576.5,1719.1 L572.5,1719.8 L568.5,1720.4 L564.5,1720.8 L560.5,1721.2 L556.5,1721.4 L552.5,1721.5 L548.5,1721.5 L544.5,1721.4 L540.5,1721.1 L536.5,1720.9 L532.5,1720.5 L528.5,1720.0 L524.5,1719.5 L520.5,1718.9 L516.5,1718.3 L512.5,1717.6 L508.5,1716.9 L504.5,1716.2 L500.5,1715.4 L496.5,1714.6 L492.5,1713.8 L488.5,1713.0 L484.5,1712.2 L480.5,1711.4 L476.5,1710.7 L472.5,1709.9 L468.5,1709.2 L464.5,1708.6 L460.5,1707.9 L456.5,1707.3 L452.5,1706.8 L448.5,1706.3 L444.5,1705.8 L440.5,1705.3 L436.5,1704.9 L432.5,1704.5 L428.5,1704.1 L424.5,1703.8 L420.5,1703.4 L416.5,1703.1 L412.5,1702.7 L408.5,1702.4 L404.5,1702.1 L400.5,1701.7 L396.5,1701.4 L392.5,1701.0 L388.5,1700.7 L384.5,1700.3 L380.5,1699.9 L376.5,1699.5 L372.5,1699.1 L368.5,1698.6 L364.5,1698.1 L360.5,1697.6 L356.5,1697.1 L352.5,1696.5 L348.5,1695.8 L344.5,1695.1 L340.5,1694.3 L336.5,1693.5 L332.5,1692.6 L328.5,1691.6 L324.5,1690.5 L320.5,1689.4 L316.5,1688.1 L312.5,1686.8 L308.5,1685.3 L304.5,1683.8 L300.5,1682.1 L296.5,1680.3 L292.5,1678.4 L288.5,1676.3 L284.5,1674.2 L280.5,1671.8 L276.5,1669.4 L272.5,1666.7 L268.5,1663.9 L264.5,1661.0 L260.5,1657.9 L256.5,1654.6 L252.5,1651.1 L248.5,1647.5 L244.5,1643.8 L240.5,1639.9 L236.5,1635.8 L232.5,1631.6 L228.5,1627.2 L224.5,1622.8 L220.5,1618.1 L216.5,1613.4 L212.5,1608.5 L208.5,1603.5 L204.5,1598.4 L200.5,1593.1 L196.5,1587.8 L192.5,1582.3 L188.5,1576.7 L184.5,1571.1 L180.5,1565.3 L176.5,1559.4 L172.5,1553.4 L168.5,1547.4 L164.5,1541.2Z" fill="#bcd6e8"/>
<polygon points="597.30,1387.53 593.56,1399.05 581.45,1399.05 591.24,1406.17 587.50,1417.69 597.30,1410.57 607.10,1417.69 603.36,1406.17 613.15,1399.05 601.04,1399.05" fill="#000" stroke="#000" stroke-width="2.78" stroke-linejoin="round"/>
<polygon points="643.35,1387.53 639.61,1399.05 627.50,1399.05 637.29,1406.17 633.55,1417.69 643.35,1410.57 653.15,1417.69 649.41,1406.17 659.20,1399.05 647.09,1399.05" fill="#0000ff" stroke="#0000ff" stroke-width="2.78" stroke-linejoin="round"/>
<line x1="164.5" y1="1246.25" x2="164.5" y2="1562.2" stroke="#1f77b4" stroke-width="4.55"/>
<line x1="220.75" y1="1246.25" x2="220.75" y2="1562.2" stroke="#1f77b4" stroke-width="4.55"/>
<line x1="597.25" y1="1246.25" x2="597.25" y2="1562.2" stroke="#1f77b4" stroke-width="4.55"/>
<line x1="1200" y1="1246.25" x2="1200" y2="1562.2" stroke="#1f77b4" stroke-width="4.55"/>
<line x1="1789.75" y1="1246.25" x2="1789.75" y2="1562.2" stroke="#1f77b4" stroke-width="4.55"/>
<line x1="164.5" y1="1404.2" x2="1789.75" y2="1404.2" stroke="#1f77b4" stroke-width="4.55"/>
<line x1="155.5" y1="1752.85" x2="155.5" y2="1764.1" stroke="#000" stroke-width="2.45"/>
<line x1="380.36" y1="1752.85" x2="380.36" y2="1764.1" stroke="#000" stroke-width="2.45"/>
<line x1="605.22" y1="1752.85" x2="605.22" y2="1764.1" stroke="#000" stroke-width="2.45"/>
<line x1="830.08" y1="1752.85" x2="830.08" y2="1764.1" stroke="#000" stroke-width="2.45"/>
<line x1="1054.94" y1="1752.85" x2="1054.94" y2="1764.1" stroke="#000" stroke-width="2.45"/>
<line x1="1279.8000000000002" y1="1752.85" x2="1279.8000000000002" y2="1764.1" stroke="#000" stroke-width="2.45"/>
<line x1="1504.66" y1="1752.85" x2="1504.66" y2="1764.1" stroke="#000" stroke-width="2.45"/>
<line x1="1729.52" y1="1752.85" x2="1729.52" y2="1764.1" stroke="#000" stroke-width="2.45"/>
<line x1="71.4" y1="1132.3" x2="82.6" y2="1132.3" stroke="#000" stroke-width="2.45"/>
<line x1="71.4" y1="1222.8" x2="82.6" y2="1222.8" stroke="#000" stroke-width="2.45"/>
<line x1="71.4" y1="1313.3" x2="82.6" y2="1313.3" stroke="#000" stroke-width="2.45"/>
<line x1="71.4" y1="1403.8" x2="82.6" y2="1403.8" stroke="#000" stroke-width="2.45"/>
<line x1="71.4" y1="1494.3" x2="82.6" y2="1494.3" stroke="#000" stroke-width="2.45"/>
<line x1="71.4" y1="1584.8" x2="82.6" y2="1584.8" stroke="#000" stroke-width="2.45"/>
<line x1="71.4" y1="1675.3" x2="82.6" y2="1675.3" stroke="#000" stroke-width="2.45"/>
<rect x="82.6" y="1055.7" width="1788.9" height="697.1499999999999" fill="none" stroke="#000" stroke-width="2.45"/>
<text class="dj" x="155.5" y="1809.4" font-size="44.6" text-anchor="middle">0.0</text>
<text class="dj" x="380.36" y="1809.4" font-size="44.6" text-anchor="middle">2.5</text>
<text class="dj" x="605.22" y="1809.4" font-size="44.6" text-anchor="middle">5.0</text>
<text class="dj" x="830.08" y="1809.4" font-size="44.6" text-anchor="middle">7.5</text>
<text class="dj" x="1054.94" y="1809.4" font-size="44.6" text-anchor="middle">10.0</text>
<text class="dj" x="1279.8000000000002" y="1809.4" font-size="44.6" text-anchor="middle">12.5</text>
<text class="dj" x="1504.66" y="1809.4" font-size="44.6" text-anchor="middle">15.0</text>
<text class="dj" x="1729.52" y="1809.4" font-size="44.6" text-anchor="middle">17.5</text>
<text class="dj" x="977.8" y="1866.2" font-size="44.6" text-anchor="middle" letter-spacing="0">Temperature [°C]</text>
<text class="dj" x="977.2" y="1037" font-size="64" text-anchor="middle" letter-spacing="0">Temperature Range</text>
<text class="lb" x="16.0" y="1032.7" font-size="50" letter-spacing="0.4">(b)</text>
</svg></body></html>
